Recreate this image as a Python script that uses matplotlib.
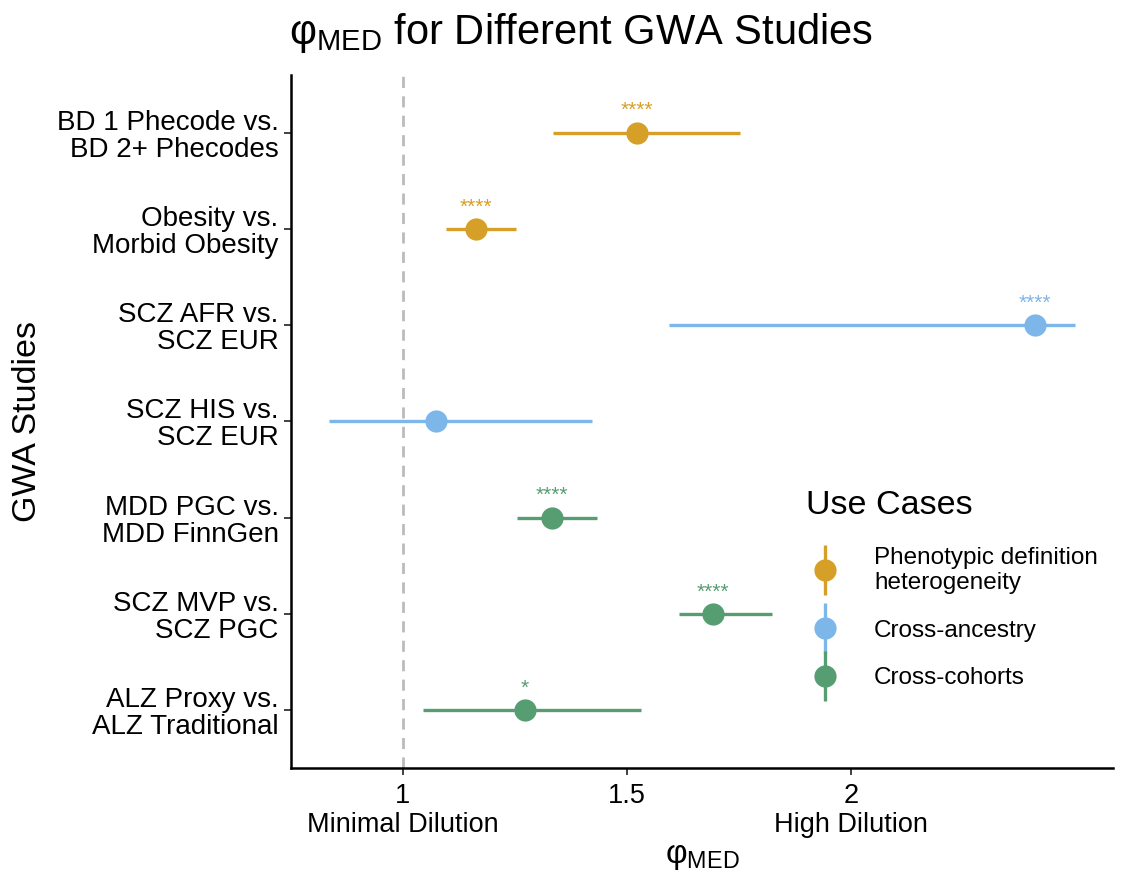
import matplotlib
matplotlib.use("Agg")
from matplotlib import pyplot as plt
from matplotlib.lines import Line2D
from matplotlib.legend_handler import HandlerTuple

# data (top to bottom)
studies = ["BD 1 Phecode vs.\nBD 2+ Phecodes", "Obesity vs.\nMorbid Obesity",
           "SCZ AFR vs.\nSCZ EUR", "SCZ HIS vs.\nSCZ EUR", "MDD PGC vs.\nMDD FinnGen",
           "SCZ MVP vs.\nSCZ PGC", "ALZ Proxy vs.\nALZ Traditional"]
phi_med = [1.522, 1.163, 2.411, 1.074, 1.333, 1.692, 1.272]
ci_low = [1.335, 1.096, 1.594, 0.835, 1.254, 1.616, 1.045]
ci_high = [1.752, 1.252, 2.500, 1.422, 1.433, 1.824, 1.531]
use_case = ["Phenotypic definition\nheterogeneity", "Phenotypic definition\nheterogeneity",
            "Cross-ancestry", "Cross-ancestry", "Cross-cohorts", "Cross-cohorts", "Cross-cohorts"]
signif = ["****", "****", "****", "", "****", "****", "*"]

case_order = ["Phenotypic definition\nheterogeneity", "Cross-ancestry", "Cross-cohorts"]
case_colors = {"Phenotypic definition\nheterogeneity": "#D69F27",
               "Cross-ancestry": "#7DB6E8",
               "Cross-cohorts": "#579D72"}

plt.rcParams["font.family"] = ["Liberation Sans", "DejaVu Sans"]
plt.rcParams["mathtext.fontset"] = "custom"
plt.rcParams["mathtext.rm"] = "Liberation Sans"
plt.rcParams["mathtext.it"] = "Liberation Sans"

fig = plt.figure(figsize=(11.4, 8.82), dpi=100)
ax = fig.add_axes([0.2553, 0.1293, 0.7207, 0.7857])

n = len(studies)
ypos = [n - i for i in range(n)]

ax.axvline(1, color="#BBBBBB", linestyle=(0, (4, 3)), linewidth=2, zorder=1)

for y, m, lo, hi, uc, s in zip(ypos, phi_med, ci_low, ci_high, use_case, signif):
    c = case_colors[uc]
    ax.plot([lo, hi], [y, y], color=c, linewidth=2.4, solid_capstyle="butt", zorder=2)
    ax.plot(m, y, "o", color=c, markersize=16, markeredgewidth=0, zorder=3)
    if s:
        ax.annotate(s, (m, y), xytext=(0, 9), textcoords="offset points",
                    ha="center", va="bottom", color=c, fontsize=15)

ax.set_xlim(0.75, 2.585)
ax.set_ylim(0.4, n + 0.6)
ax.set_yticks(ypos)
ax.set_yticklabels(studies, fontsize=20, linespacing=1.05)
ax.set_xticks([1, 1.5, 2])
ax.set_xticklabels(["1\nMinimal Dilution", "1.5", "2\nHigh Dilution"], fontsize=19.5,
                   linespacing=1.15, va="top")

for side in ["top", "right"]:
    ax.spines[side].set_visible(False)
for side in ["left", "bottom"]:
    ax.spines[side].set_linewidth(1.8)
ax.tick_params(axis="both", length=5, width=1.3, color="#333333", labelcolor="black")
ax.tick_params(axis="x", pad=6)
ax.tick_params(axis="y", pad=4)

ax.set_ylabel("GWA Studies", fontsize=24.5, labelpad=10)
ax.set_xlabel("φ$_\\mathrm{MED}$", fontsize=24, labelpad=2)
fig.text(0.51, 0.963, "φ$_\\mathrm{MED}$ for Different GWA Studies", fontsize=30,
         ha="center", va="center")

handles = []
for uc in case_order:
    c = case_colors[uc]
    vline = Line2D([], [], color=c, marker="|", markersize=36, markeredgewidth=2.4, linestyle="none")
    dot = Line2D([], [], color=c, marker="o", markersize=16, markeredgewidth=0, linestyle="none")
    handles.append((vline, dot))

leg = ax.legend(handles, case_order, title="Use Cases", loc="lower left",
                bbox_to_anchor=(0.6, 0.082), frameon=False, fontsize=17.5, title_fontsize=24.5,
                handler_map={tuple: HandlerTuple(ndivide=1)}, handlelength=1.6,
                handletextpad=1.2, labelspacing=1.05, alignment="left")

fig.savefig("out.png", dpi=100)
